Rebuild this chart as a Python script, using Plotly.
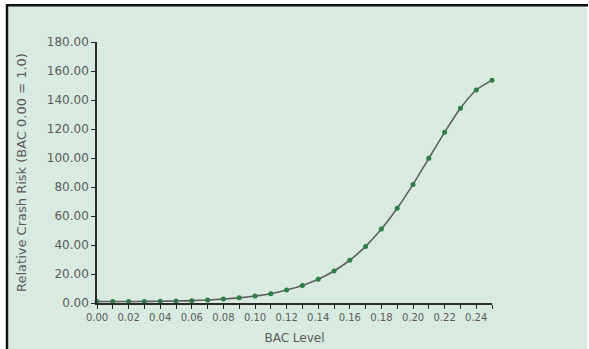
import plotly.graph_objects as go

bac = [0.00, 0.01, 0.02, 0.03, 0.04, 0.05, 0.06, 0.07, 0.08, 0.09, 0.10, 0.11, 0.12,
       0.13, 0.14, 0.15, 0.16, 0.17, 0.18, 0.19, 0.20, 0.21, 0.22, 0.23, 0.24, 0.25]
risk = [1.00, 1.03, 1.06, 1.09, 1.18, 1.38, 1.63, 2.09, 2.69, 3.54, 4.79, 6.41, 8.90,
        12.06, 16.36, 22.10, 29.48, 39.05, 50.99, 65.32, 81.79, 99.78, 117.72, 134.26, 146.90, 153.68]

x_tickvals = [0.00, 0.02, 0.04, 0.06, 0.08, 0.10, 0.12, 0.14, 0.16, 0.18, 0.20, 0.22, 0.24]
x_ticktext = ["0.00", "0.02", "0.04", "0.06", "0.08", "0.10", "0.12", "0.14", "0.16", "0.18", "0.20", "0.22", "0.24"]
y_tickvals = [0, 20, 40, 60, 80, 100, 120, 140, 160, 180]
y_ticktext = ["0.00", "20.00", "40.00", "60.00", "80.00", "100.00", "120.00", "140.00", "160.00", "180.00"]

BG = "#d9ebe0"
TXT = "#5a5a5a"
AX = "#2a2a2a"

fig = go.Figure()
fig.add_trace(go.Scatter(
    x=bac, y=risk, mode="lines+markers",
    line=dict(color="#5e5e5e", width=1.6, shape="spline", smoothing=0.6),
    marker=dict(color="#2e7d46", size=5),
    cliponaxis=False, showlegend=False,
))

W, H = 589, 349
L, R, T, B = 97, 492, 41.5, 303.5
pw, ph = R - L, B - T

def px(x):
    return (x - L) / pw

def py(y):
    return (B - y) / ph

# green panel
fig.add_shape(type="rect", xref="paper", yref="paper",
              x0=px(7), x1=px(587), y0=py(5), y1=py(352),
              fillcolor=BG, line=dict(width=0), layer="below")
# black borders (top and left)
fig.add_shape(type="line", xref="paper", yref="paper",
              x0=px(6), x1=px(588), y0=py(4.5), y1=py(4.5),
              line=dict(color="#111111", width=2.5), layer="above")
fig.add_shape(type="line", xref="paper", yref="paper",
              x0=px(7), x1=px(7), y0=py(3.5), y1=py(352),
              line=dict(color="#111111", width=2.5), layer="above")

fig.update_layout(
    width=W, height=H,
    margin=dict(l=L, r=W - R, t=T, b=H - B, autoexpand=False),
    paper_bgcolor="white",
    plot_bgcolor="rgba(0,0,0,0)",
    font=dict(family="DejaVu Sans", color=TXT),
)
fig.update_xaxes(
    range=[0, 0.25], showgrid=False, zeroline=False, automargin=False,
    showline=True, linecolor=AX, linewidth=1.5,
    ticks="outside", ticklen=4, tickcolor=AX, tickwidth=1.2,
    tickmode="array", tickvals=x_tickvals, ticktext=x_ticktext,
    tickfont=dict(size=10, color=TXT),
    minor=dict(ticks="outside", ticklen=4, tickcolor=AX, tickwidth=1.2, dtick=0.01, showgrid=False),
    title=dict(text="BAC Level", font=dict(size=12, color=TXT), standoff=12),
)
fig.update_yaxes(
    range=[0, 180], showgrid=False, zeroline=False, automargin=False,
    showline=True, linecolor=AX, linewidth=1.5,
    ticks="outside", ticklen=4, tickcolor=AX, tickwidth=1.2,
    tickmode="array", tickvals=y_tickvals, ticktext=y_ticktext,
    tickfont=dict(size=12, color=TXT),
    title=dict(text="Relative Crash Risk (BAC 0.00 = 1.0)", font=dict(size=13, color=TXT), standoff=17),
)

fig.write_html("out.html", config={"displayModeBar": False},
               post_script="document.body.style.margin='0';document.body.style.overflow='hidden';")
